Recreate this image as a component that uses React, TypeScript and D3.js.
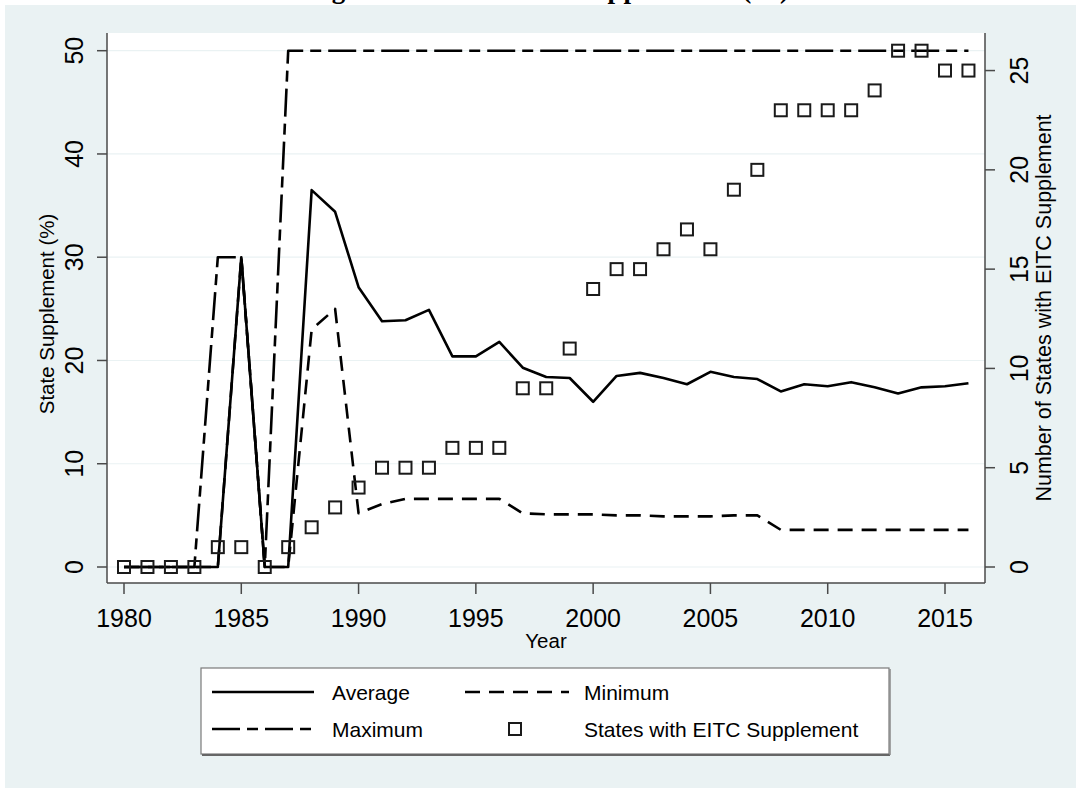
import React from 'react';
import * as d3 from 'd3';

const years = [1980, 1981, 1982, 1983, 1984, 1985, 1986, 1987, 1988, 1989, 1990, 1991, 1992, 1993, 1994, 1995, 1996, 1997, 1998, 1999, 2000, 2001, 2002, 2003, 2004, 2005, 2006, 2007, 2008, 2009, 2010, 2011, 2012, 2013, 2014, 2015, 2016];
const average = [0, 0, 0, 0, 0, 30, 0, 0, 36.5, 34.4, 27.1, 23.8, 23.9, 24.9, 20.4, 20.4, 21.8, 19.3, 18.4, 18.3, 16.0, 18.5, 18.8, 18.3, 17.7, 18.9, 18.4, 18.2, 17.0, 17.7, 17.5, 17.9, 17.4, 16.8, 17.4, 17.5, 17.8];
const minimum = [0, 0, 0, 0, 0, 30, 0, 0, 23, 25, 5.2, 6.1, 6.6, 6.6, 6.6, 6.6, 6.6, 5.2, 5.1, 5.1, 5.1, 5.0, 5.0, 4.9, 4.9, 4.9, 5.0, 5.0, 3.6, 3.6, 3.6, 3.6, 3.6, 3.6, 3.6, 3.6, 3.6];
const maximum = [0, 0, 0, 0, 30, 30, 0, 50, 50, 50, 50, 50, 50, 50, 50, 50, 50, 50, 50, 50, 50, 50, 50, 50, 50, 50, 50, 50, 50, 50, 50, 50, 50, 50, 50, 50, 50];
const statesWithSupplement = [0, 0, 0, 0, 1, 1, 0, 1, 2, 3, 4, 5, 5, 5, 6, 6, 6, 9, 9, 11, 14, 15, 15, 16, 17, 16, 19, 20, 23, 23, 23, 23, 24, 26, 26, 25, 25];

const xTicks = [1980, 1985, 1990, 1995, 2000, 2005, 2010, 2015];
const leftTicks = [0, 10, 20, 30, 40, 50];
const rightTicks = [0, 5, 10, 15, 20, 25];

const titleText = 'Figure 1: State EITC Supplements (%)';
const xTitle = 'Year';
const leftTitle = 'State Supplement (%)';
const rightTitle = 'Number of States with EITC Supplement';
const legendLabels = ['Average', 'Minimum', 'Maximum', 'States with EITC Supplement'];

const W = 1076;
const H = 788;
const BG = '#eaf2f3';
const FONT = '"Liberation Sans", Arial, sans-serif';

const plot = { left: 107, right: 985, top: 33, bottom: 583 };

const x = d3.scaleLinear().domain([1980, 2015]).range([124, 945]);
const yL = d3.scaleLinear().domain([0, 50]).range([567, 50.7]);
const yR = d3.scaleLinear().domain([0, 26]).range([567, 50.7]);

const lineGen = d3
  .line<[number, number]>()
  .x((d) => x(d[0]))
  .y((d) => yL(d[1]));

const zip = (vals: number[]) => years.map((yr, i) => [yr, vals[i]] as [number, number]);

const DASH = '15 9';
const LONGDASH_DOT = '28 7 11 7';
const LW = 2.6;
const SQ = 12;

export default function App() {
  return (
    <div>
      <style>{`body{margin:0;}`}</style>
      <svg width={W} height={H} style={{ display: 'block', background: '#ffffff' }}>
        <rect x={5} y={5} width={W - 5} height={H - 5} fill={BG} />
        <text
          x={306}
          y={-2.5}
          textLength={483}
          lengthAdjust="spacing"
          fontFamily='"Liberation Serif", "Times New Roman", serif'
          fontWeight="bold"
          fontSize={27}
          fill="#000"
        >
          {titleText}
        </text>

        {/* plot region */}
        <rect x={plot.left} y={plot.top} width={plot.right - plot.left} height={plot.bottom - plot.top} fill="#ffffff" />
        {leftTicks.map((t) => (
          <line key={'g' + t} x1={plot.left} x2={plot.right} y1={yL(t)} y2={yL(t)} stroke={BG} strokeWidth={1.2} />
        ))}

        {/* axes */}
        <line x1={plot.left} x2={plot.left} y1={plot.top} y2={plot.bottom} stroke="#4a4a4a" strokeWidth={1.5} />
        <line x1={plot.right} x2={plot.right} y1={plot.top} y2={plot.bottom} stroke="#4a4a4a" strokeWidth={1.5} />
        <line x1={plot.left} x2={plot.right} y1={plot.bottom} y2={plot.bottom} stroke="#4a4a4a" strokeWidth={1.5} />

        {leftTicks.map((t) => (
          <g key={'lt' + t}>
            <line x1={plot.left - 10} x2={plot.left} y1={yL(t)} y2={yL(t)} stroke="#4a4a4a" strokeWidth={1.5} />
            <text
              transform={`translate(83,${yL(t)}) rotate(-90)`}
              textAnchor="middle"
              fontFamily={FONT}
              fontSize={25}
              fill="#000"
            >
              {t}
            </text>
          </g>
        ))}
        {rightTicks.map((t) => (
          <g key={'rt' + t}>
            <line x1={plot.right} x2={plot.right + 10} y1={yR(t)} y2={yR(t)} stroke="#4a4a4a" strokeWidth={1.5} />
            <text
              transform={`translate(1028,${yR(t)}) rotate(-90)`}
              textAnchor="middle"
              fontFamily={FONT}
              fontSize={25}
              fill="#000"
            >
              {t}
            </text>
          </g>
        ))}
        {xTicks.map((t) => (
          <g key={'xt' + t}>
            <line x1={x(t)} x2={x(t)} y1={plot.bottom} y2={plot.bottom + 11} stroke="#4a4a4a" strokeWidth={1.5} />
            <text x={x(t)} y={627} textAnchor="middle" fontFamily={FONT} fontSize={25} fill="#000">
              {t}
            </text>
          </g>
        ))}

        <text x={(plot.left + plot.right) / 2} y={648} textAnchor="middle" fontFamily={FONT} fontSize={20.5} fill="#000">
          {xTitle}
        </text>
        <text
          transform={`translate(54,${(plot.top + plot.bottom) / 2 + 6}) rotate(-90)`}
          textAnchor="middle"
          fontFamily={FONT}
          fontSize={20.5}
          fill="#000"
        >
          {leftTitle}
        </text>
        <text
          transform={`translate(1051,${(plot.top + plot.bottom) / 2}) rotate(-90)`}
          textAnchor="middle"
          fontFamily={FONT}
          fontSize={21.5}
          fill="#000"
        >
          {rightTitle}
        </text>

        {/* series */}
        <path d={lineGen(zip(average)) || ''} fill="none" stroke="#000" strokeWidth={LW} strokeLinejoin="round" />
        <path d={lineGen(zip(minimum)) || ''} fill="none" stroke="#000" strokeWidth={LW} strokeDasharray={DASH} strokeLinejoin="round" />
        <path d={lineGen(zip(maximum)) || ''} fill="none" stroke="#000" strokeWidth={LW} strokeDasharray={LONGDASH_DOT} strokeLinejoin="round" />
        {years.map((yr, i) => (
          <rect
            key={'sq' + yr}
            x={x(yr) - SQ / 2}
            y={yR(statesWithSupplement[i]) - SQ / 2}
            width={SQ}
            height={SQ}
            fill="none"
            stroke="#1a1a1a"
            strokeWidth={2}
          />
        ))}

        {/* legend */}
        <rect x={201} y={668} width={688} height={86} fill="#ffffff" stroke="#7a7a7a" strokeWidth={1.2} />
        <line x1={202} x2={890} y1={755} y2={755} stroke="#666" strokeWidth={2} />
        <line x1={890} x2={890} y1={669} y2={755} stroke="#888" strokeWidth={1.5} />

        <line x1={212} x2={314} y1={692} y2={692} stroke="#000" strokeWidth={LW} />
        <text x={332} y={700} fontFamily={FONT} fontSize={21} fill="#000">{legendLabels[0]}</text>
        <line x1={465} x2={569} y1={692} y2={692} stroke="#000" strokeWidth={LW} strokeDasharray={DASH} />
        <text x={584} y={700} fontFamily={FONT} fontSize={21} fill="#000">{legendLabels[1]}</text>
        <line x1={212} x2={314} y1={729} y2={729} stroke="#000" strokeWidth={LW} strokeDasharray={LONGDASH_DOT} />
        <text x={332} y={737} fontFamily={FONT} fontSize={21} fill="#000">{legendLabels[2]}</text>
        <rect x={515 - SQ / 2} y={729 - SQ / 2} width={SQ} height={SQ} fill="none" stroke="#1a1a1a" strokeWidth={2} />
        <text x={584} y={737} fontFamily={FONT} fontSize={21} fill="#000">{legendLabels[3]}</text>
      </svg>
    </div>
  );
}
